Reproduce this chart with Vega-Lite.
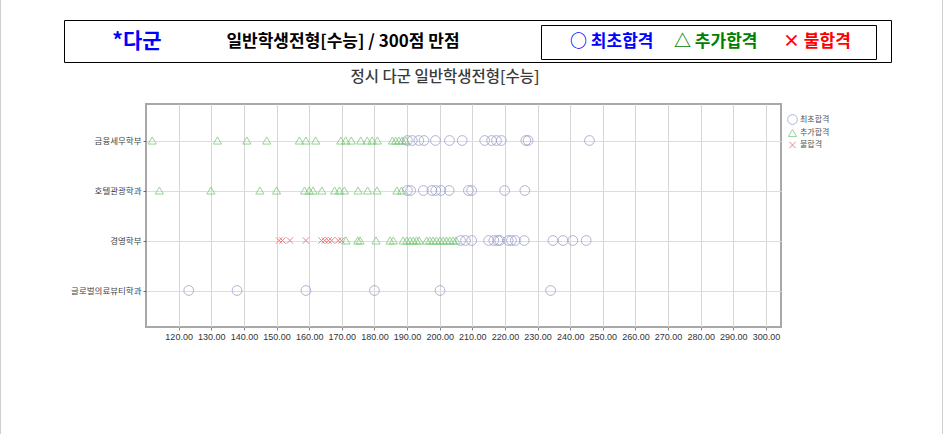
{
  "$schema": "https://vega.github.io/schema/vega-lite/v6.json",
  "autosize": "none",
  "width": 635,
  "height": 223,
  "padding": {"left": 146, "top": 104, "right": 163, "bottom": 107},
  "background": "white",
  "config": {
    "font": "Noto Sans CJK KR",
    "view": {"stroke": "#a8a8a8", "strokeWidth": 2}
  },
  "layer": [
    {
      "data": {"values": [{}]},
      "mark": {"type": "rule", "color": "#cfcfcf", "strokeWidth": 1},
      "encoding": {"x": {"value": -145.5}, "y": {"value": -104}, "y2": {"value": 330}}
    },
    {
      "data": {"values": [{}]},
      "mark": {"type": "rule", "color": "#cfcfcf", "strokeWidth": 1},
      "encoding": {"x": {"value": 796.5}, "y": {"value": -104}, "y2": {"value": 330}}
    },
    {
      "data": {"values": [{}]},
      "mark": {"type": "rect", "fill": "white", "stroke": "black", "strokeWidth": 1},
      "encoding": {"x": {"value": -81.5}, "x2": {"value": 745.5}, "y": {"value": -83.5}, "y2": {"value": -41.5}}
    },
    {
      "data": {"values": [{}]},
      "mark": {"type": "rect", "fill": "white", "stroke": "black", "strokeWidth": 1},
      "encoding": {"x": {"value": 395.5}, "x2": {"value": 730.5}, "y": {"value": -78.5}, "y2": {"value": -44.5}}
    },
    {
      "data": {"values": [{"t": "*다군"}]},
      "mark": {"type": "text", "font": "Noto Sans CJK KR", "fontSize": 21, "fontWeight": "bold", "color": "#0000ff", "align": "center", "baseline": "middle"},
      "encoding": {"text": {"field": "t"}, "x": {"value": -9}, "y": {"value": -62}}
    },
    {
      "data": {"values": [{"t": "일반학생전형[수능] / 300점 만점"}]},
      "mark": {"type": "text", "font": "Noto Sans CJK KR", "fontSize": 17, "fontWeight": "bold", "color": "#000000", "align": "center", "baseline": "middle"},
      "encoding": {"text": {"field": "t"}, "x": {"value": 197}, "y": {"value": -62}}
    },
    {
      "data": {"values": [{"t": "○ 최초합격"}]},
      "mark": {"type": "text", "font": "Noto Sans CJK KR", "fontSize": 17, "fontWeight": "bold", "color": "#0000ff", "align": "left", "baseline": "middle"},
      "encoding": {"text": {"field": "t"}, "x": {"value": 424}, "y": {"value": -62}}
    },
    {
      "data": {"values": [{"t": "△ 추가합격"}]},
      "mark": {"type": "text", "font": "Noto Sans CJK KR", "fontSize": 17, "fontWeight": "bold", "color": "#008000", "align": "left", "baseline": "middle"},
      "encoding": {"text": {"field": "t"}, "x": {"value": 528}, "y": {"value": -62}}
    },
    {
      "data": {"values": [{"t": "× 불합격"}]},
      "mark": {"type": "text", "font": "Noto Sans CJK KR", "fontSize": 17, "fontWeight": "bold", "color": "#ff0000", "align": "left", "baseline": "middle"},
      "encoding": {"text": {"field": "t"}, "x": {"value": 637}, "y": {"value": -62}}
    },
    {
      "data": {"values": [{"t": "정시 다군 일반학생전형[수능]"}]},
      "mark": {"type": "text", "font": "Noto Sans CJK KR", "fontSize": 15.5, "fontWeight": 500, "color": "#3a3a3a", "align": "center", "baseline": "middle"},
      "encoding": {"text": {"field": "t"}, "x": {"value": 299}, "y": {"value": -27}}
    },
    {
      "data": {"values": [
        {"dept": "금융세무학부", "result": "추가합격", "score": 111.9},
        {"dept": "금융세무학부", "result": "추가합격", "score": 131.9},
        {"dept": "금융세무학부", "result": "추가합격", "score": 140.9},
        {"dept": "금융세무학부", "result": "추가합격", "score": 147.0},
        {"dept": "금융세무학부", "result": "추가합격", "score": 157.0},
        {"dept": "금융세무학부", "result": "추가합격", "score": 159.0},
        {"dept": "금융세무학부", "result": "추가합격", "score": 162.0},
        {"dept": "금융세무학부", "result": "추가합격", "score": 169.7},
        {"dept": "금융세무학부", "result": "추가합격", "score": 171.2},
        {"dept": "금융세무학부", "result": "추가합격", "score": 172.9},
        {"dept": "금융세무학부", "result": "추가합격", "score": 175.8},
        {"dept": "금융세무학부", "result": "추가합격", "score": 177.8},
        {"dept": "금융세무학부", "result": "추가합격", "score": 179.3},
        {"dept": "금융세무학부", "result": "추가합격", "score": 180.9},
        {"dept": "금융세무학부", "result": "추가합격", "score": 185.5},
        {"dept": "금융세무학부", "result": "추가합격", "score": 186.5},
        {"dept": "금융세무학부", "result": "추가합격", "score": 187.5},
        {"dept": "금융세무학부", "result": "추가합격", "score": 188.5},
        {"dept": "금융세무학부", "result": "추가합격", "score": 189.6},
        {"dept": "금융세무학부", "result": "최초합격", "score": 190.1},
        {"dept": "금융세무학부", "result": "최초합격", "score": 191.6},
        {"dept": "금융세무학부", "result": "최초합격", "score": 193.6},
        {"dept": "금융세무학부", "result": "최초합격", "score": 195.2},
        {"dept": "금융세무학부", "result": "최초합격", "score": 198.7},
        {"dept": "금융세무학부", "result": "최초합격", "score": 203.0},
        {"dept": "금융세무학부", "result": "최초합격", "score": 206.9},
        {"dept": "금융세무학부", "result": "최초합격", "score": 213.8},
        {"dept": "금융세무학부", "result": "최초합격", "score": 215.9},
        {"dept": "금융세무학부", "result": "최초합격", "score": 217.4},
        {"dept": "금융세무학부", "result": "최초합격", "score": 218.9},
        {"dept": "금융세무학부", "result": "최초합격", "score": 226.4},
        {"dept": "금융세무학부", "result": "최초합격", "score": 227.1},
        {"dept": "금융세무학부", "result": "최초합격", "score": 245.9},
        {"dept": "호텔관광학과", "result": "추가합격", "score": 114.1},
        {"dept": "호텔관광학과", "result": "추가합격", "score": 129.9},
        {"dept": "호텔관광학과", "result": "추가합격", "score": 144.9},
        {"dept": "호텔관광학과", "result": "추가합격", "score": 150.0},
        {"dept": "호텔관광학과", "result": "추가합격", "score": 158.6},
        {"dept": "호텔관광학과", "result": "추가합격", "score": 160.0},
        {"dept": "호텔관광학과", "result": "추가합격", "score": 161.2},
        {"dept": "호텔관광학과", "result": "추가합격", "score": 163.9},
        {"dept": "호텔관광학과", "result": "추가합격", "score": 167.8},
        {"dept": "호텔관광학과", "result": "추가합격", "score": 169.3},
        {"dept": "호텔관광학과", "result": "추가합격", "score": 170.8},
        {"dept": "호텔관광학과", "result": "추가합격", "score": 175.0},
        {"dept": "호텔관광학과", "result": "추가합격", "score": 177.9},
        {"dept": "호텔관광학과", "result": "추가합격", "score": 180.8},
        {"dept": "호텔관광학과", "result": "추가합격", "score": 186.9},
        {"dept": "호텔관광학과", "result": "추가합격", "score": 188.3},
        {"dept": "호텔관광학과", "result": "최초합격", "score": 190.1},
        {"dept": "호텔관광학과", "result": "최초합격", "score": 191.1},
        {"dept": "호텔관광학과", "result": "최초합격", "score": 195.0},
        {"dept": "호텔관광학과", "result": "최초합격", "score": 197.6},
        {"dept": "호텔관광학과", "result": "최초합격", "score": 198.8},
        {"dept": "호텔관광학과", "result": "최초합격", "score": 200.4},
        {"dept": "호텔관광학과", "result": "최초합격", "score": 202.9},
        {"dept": "호텔관광학과", "result": "최초합격", "score": 208.8},
        {"dept": "호텔관광학과", "result": "최초합격", "score": 209.8},
        {"dept": "호텔관광학과", "result": "최초합격", "score": 219.9},
        {"dept": "호텔관광학과", "result": "최초합격", "score": 226.1},
        {"dept": "경영학부", "result": "불합격", "score": 150.8},
        {"dept": "경영학부", "result": "불합격", "score": 151.8},
        {"dept": "경영학부", "result": "불합격", "score": 154.1},
        {"dept": "경영학부", "result": "불합격", "score": 159.0},
        {"dept": "경영학부", "result": "불합격", "score": 163.8},
        {"dept": "경영학부", "result": "불합격", "score": 164.8},
        {"dept": "경영학부", "result": "불합격", "score": 165.9},
        {"dept": "경영학부", "result": "불합격", "score": 166.9},
        {"dept": "경영학부", "result": "불합격", "score": 168.9},
        {"dept": "경영학부", "result": "불합격", "score": 169.9},
        {"dept": "경영학부", "result": "추가합격", "score": 171.3},
        {"dept": "경영학부", "result": "추가합격", "score": 174.9},
        {"dept": "경영학부", "result": "추가합격", "score": 175.6},
        {"dept": "경영학부", "result": "추가합격", "score": 180.5},
        {"dept": "경영학부", "result": "추가합격", "score": 184.8},
        {"dept": "경영학부", "result": "추가합격", "score": 185.8},
        {"dept": "경영학부", "result": "추가합격", "score": 188.8},
        {"dept": "경영학부", "result": "추가합격", "score": 189.9},
        {"dept": "경영학부", "result": "추가합격", "score": 190.9},
        {"dept": "경영학부", "result": "추가합격", "score": 191.9},
        {"dept": "경영학부", "result": "추가합격", "score": 192.9},
        {"dept": "경영학부", "result": "추가합격", "score": 193.7},
        {"dept": "경영학부", "result": "추가합격", "score": 196.0},
        {"dept": "경영학부", "result": "추가합격", "score": 197.0},
        {"dept": "경영학부", "result": "추가합격", "score": 198.0},
        {"dept": "경영학부", "result": "추가합격", "score": 199.0},
        {"dept": "경영학부", "result": "추가합격", "score": 200.1},
        {"dept": "경영학부", "result": "추가합격", "score": 201.1},
        {"dept": "경영학부", "result": "추가합격", "score": 202.1},
        {"dept": "경영학부", "result": "추가합격", "score": 203.1},
        {"dept": "경영학부", "result": "추가합격", "score": 204.1},
        {"dept": "경영학부", "result": "추가합격", "score": 205.0},
        {"dept": "경영학부", "result": "최초합격", "score": 206.4},
        {"dept": "경영학부", "result": "최초합격", "score": 207.9},
        {"dept": "경영학부", "result": "최초합격", "score": 209.8},
        {"dept": "경영학부", "result": "최초합격", "score": 215.0},
        {"dept": "경영학부", "result": "최초합격", "score": 216.6},
        {"dept": "경영학부", "result": "최초합격", "score": 217.8},
        {"dept": "경영학부", "result": "최초합격", "score": 218.4},
        {"dept": "경영학부", "result": "최초합격", "score": 221.0},
        {"dept": "경영학부", "result": "최초합격", "score": 222.0},
        {"dept": "경영학부", "result": "최초합격", "score": 223.2},
        {"dept": "경영학부", "result": "최초합격", "score": 225.9},
        {"dept": "경영학부", "result": "최초합격", "score": 234.7},
        {"dept": "경영학부", "result": "최초합격", "score": 237.8},
        {"dept": "경영학부", "result": "최초합격", "score": 240.8},
        {"dept": "경영학부", "result": "최초합격", "score": 244.9},
        {"dept": "글로벌의료뷰티학과", "result": "최초합격", "score": 123.1},
        {"dept": "글로벌의료뷰티학과", "result": "최초합격", "score": 137.9},
        {"dept": "글로벌의료뷰티학과", "result": "최초합격", "score": 159.0},
        {"dept": "글로벌의료뷰티학과", "result": "최초합격", "score": 180.0},
        {"dept": "글로벌의료뷰티학과", "result": "최초합격", "score": 200.1},
        {"dept": "글로벌의료뷰티학과", "result": "최초합격", "score": 234.0}
      ]},
      "mark": {"type": "point", "filled": false, "strokeWidth": 1},
      "encoding": {
        "x": {
          "field": "score",
          "type": "quantitative",
          "scale": {"domain": [110, 304.6], "nice": false, "zero": false},
          "axis": {
            "title": null,
            "values": [120, 130, 140, 150, 160, 170, 180, 190, 200, 210, 220, 230, 240, 250, 260, 270, 280, 290, 300],
            "format": ".2f",
            "labelFontSize": 9,
            "labelFont": "Liberation Sans",
            "labelColor": "#333333",
            "labelPadding": 2,
            "tickSize": 3,
            "tickColor": "#888888",
            "domain": false,
            "grid": true,
            "gridColor": "#d6d6d6",
            "gridWidth": 1
          }
        },
        "y": {
          "field": "dept",
          "type": "nominal",
          "sort": ["금융세무학부", "호텔관광학과", "경영학부", "글로벌의료뷰티학과"],
          "scale": {"type": "point", "padding": 0.73},
          "axis": {
            "title": null,
            "labelFontSize": 8.5,
            "labelColor": "#444444",
            "labelPadding": 2,
            "tickSize": 3,
            "tickColor": "#666666",
            "domain": false,
            "grid": true,
            "gridColor": "#dddddd"
          }
        },
        "shape": {
          "field": "result",
          "type": "nominal",
          "scale": {
            "domain": ["최초합격", "추가합격", "불합격"],
            "range": ["circle", "triangle-up", "M-1,-1L1,1M-1,1L1,-1"]
          },
          "legend": {
            "title": null,
            "orient": "none",
            "legendX": 641,
            "legendY": 10,
            "labelFontSize": 8,
            "labelColor": "#555555",
            "symbolSize": 45,
            "symbolStrokeWidth": 1,
            "rowPadding": 0,
            "labelOffset": 2
          }
        },
        "color": {
          "field": "result",
          "type": "nominal",
          "scale": {
            "domain": ["최초합격", "추가합격", "불합격"],
            "range": ["#8e93c4", "#6cc46c", "#e05555"]
          },
          "legend": {
            "title": null,
            "orient": "none",
            "legendX": 641,
            "legendY": 10,
            "labelFontSize": 8,
            "labelColor": "#555555",
            "symbolSize": 45,
            "symbolStrokeWidth": 1,
            "rowPadding": 0,
            "labelOffset": 2
          }
        },
        "size": {
          "field": "result",
          "type": "nominal",
          "scale": {"domain": ["최초합격", "추가합격", "불합격"], "range": [95, 40, 22]},
          "legend": null
        }
      }
    }
  ]
}
